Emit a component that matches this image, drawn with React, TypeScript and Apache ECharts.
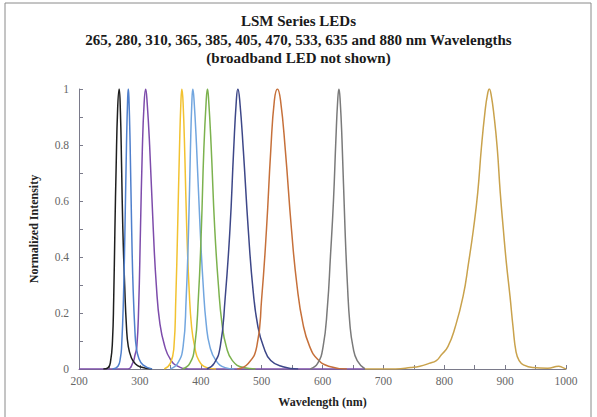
import React, { useEffect, useRef } from "react";
import * as echarts from "echarts";

const titleLines = [
  "LSM Series LEDs",
  "265, 280, 310, 365, 385, 405, 470, 533, 635 and 880 nm Wavelengths",
  "(broadband LED not shown)",
];

const xTickLabels = [200, 300, 400, 500, 600, 700, 800, 900, 1000];
const yTickLabels = ["0", "0.2", "0.4", "0.6", "0.8", "1"];

const led265: [number, number][] = [
  [240, 0], [248, 0.005], [252, 0.03], [255, 0.1], [257, 0.25], [259, 0.5], [261, 0.72],
  [263.5, 0.93], [266, 1], [268, 0.92], [270, 0.72], [272, 0.5], [275, 0.3], [278, 0.15],
  [281, 0.08], [286, 0.04], [292, 0.02], [300, 0.008], [320, 0],
];
const led280: [number, number][] = [
  [255, 0], [264, 0.01], [268, 0.04], [270, 0.08], [273, 0.25], [275.5, 0.5], [278, 0.8],
  [280, 0.97], [281, 1], [282, 0.97], [284, 0.8], [286.5, 0.5], [289, 0.28], [292, 0.13],
  [294, 0.08], [298, 0.04], [305, 0.015], [320, 0],
];
const led310: [number, number][] = [
  [200, 0], [280, 0], [288, 0.02], [292, 0.05], [295, 0.08], [298, 0.22], [301, 0.5], [304, 0.78],
  [307, 0.95], [309.5, 1], [312, 0.95], [316, 0.8], [322, 0.5], [327, 0.3], [333, 0.16],
  [341, 0.08], [350, 0.035], [362, 0.01], [380, 0], [670, 0],
];
const led365: [number, number][] = [
  [340, 0], [350, 0.02], [356, 0.08], [359, 0.25], [362, 0.5], [365, 0.78], [367.5, 0.96],
  [369, 1], [371, 0.95], [374, 0.75], [377, 0.5], [381, 0.28], [385, 0.15], [390, 0.08],
  [397, 0.03], [410, 0.005], [425, 0],
];
const led385: [number, number][] = [
  [350, 0], [362, 0.02], [371, 0.08], [376, 0.25], [380, 0.5], [383, 0.78], [385.5, 0.96],
  [387, 1], [389, 0.96], [393, 0.8], [399, 0.5], [404, 0.3], [409, 0.16], [415, 0.08],
  [425, 0.03], [440, 0.005], [455, 0],
];
const led405: [number, number][] = [
  [370, 0], [382, 0.02], [390, 0.08], [396, 0.25], [401, 0.5], [405, 0.78], [409, 0.96],
  [411, 1], [413, 0.96], [417, 0.8], [423, 0.5], [429, 0.3], [435, 0.16], [442, 0.08],
  [452, 0.03], [470, 0.005], [490, 0],
];
const led470: [number, number][] = [
  [410, 0], [422, 0.02], [432, 0.08], [440, 0.25], [448, 0.5], [454, 0.78], [458.5, 0.96],
  [461, 1], [464, 0.96], [470, 0.78], [478, 0.5], [486, 0.28], [494, 0.15], [503, 0.08],
  [515, 0.03], [535, 0.008], [560, 0],
];
const led533: [number, number][] = [
  [460, 0], [478, 0.02], [492, 0.08], [500, 0.25], [508, 0.5], [515, 0.78], [521, 0.96],
  [526, 1], [531, 0.96], [539, 0.78], [549, 0.5], [558, 0.3], [568, 0.16], [579, 0.08],
  [592, 0.035], [610, 0.01], [640, 0],
];
const led635: [number, number][] = [
  [580, 0], [592, 0.02], [601, 0.08], [608, 0.22], [613, 0.4], [618, 0.6], [622, 0.82],
  [625, 0.96], [627, 1], [629, 0.96], [632, 0.82], [637, 0.5], [641, 0.3], [645, 0.16],
  [650, 0.08], [657, 0.03], [670, 0],
];
const led880: [number, number][] = [
  [670, 0], [720, 0], [745, 0.005], [760, 0.01], [775, 0.02], [787, 0.03], [795, 0.05],
  [806, 0.08], [818, 0.15], [831, 0.26], [840, 0.38], [848, 0.5], [855, 0.63], [861, 0.79],
  [867, 0.92], [871, 0.98], [874, 1], [877, 0.98], [882, 0.9], [887, 0.79], [892, 0.63],
  [897, 0.5], [902, 0.38], [908, 0.26], [913, 0.15], [918, 0.06], [923, 0.03], [930, 0.015],
  [945, 0.005], [970, 0.003], [988, 0.01], [995, 0.005], [1000, 0],
];

const seriesNames = ["265", "280", "310", "365", "385", "405", "470", "533", "635", "880"];
const seriesData = [led265, led280, led310, led365, led385, led405, led470, led533, led635, led880];
const seriesColors = [
  "#1e1e1e", "#4f7fcc", "#7d4cab", "#f2c230", "#72a6df", "#7cb24e",
  "#3d4788", "#c6703a", "#7a7a7a", "#c9a24c",
];

const SERIF = "'Liberation Serif', 'DejaVu Serif', serif";

export default function App() {
  const ref = useRef<HTMLDivElement>(null);
  useEffect(() => {
    document.body.style.margin = "0";
    const chart = echarts.init(ref.current!, null, { renderer: "svg" });
    chart.setOption({
      animation: false,
      backgroundColor: "#ffffff",
      title: {
        text: titleLines.join("\n"),
        left: "center",
        top: 7,
        textStyle: {
          fontFamily: SERIF,
          fontWeight: "bold",
          fontSize: 15,
          lineHeight: 18.5,
          color: "#1a1a1a",
        },
      },
      graphic: [
        {
          type: "rect",
          shape: { x: 5, y: 3, width: 586, height: 420 },
          style: { fill: "none", stroke: "#8a8a8a", lineWidth: 1 },
          silent: true,
        },
      ],
      grid: { left: 79, right: 31, top: 89, bottom: 48 },
      xAxis: {
        type: "value",
        min: 200,
        max: 1000,
        interval: 50,
        name: "Wavelength (nm)",
        nameLocation: "middle",
        nameGap: 27,
        nameTextStyle: { fontFamily: SERIF, fontWeight: "bold", fontSize: 12, color: "#222" },
        axisLine: { lineStyle: { color: "#7a7a8a", width: 1 } },
        axisTick: { inside: true, length: 4, lineStyle: { color: "#7a7a8a" } },
        axisLabel: {
          fontFamily: SERIF,
          fontSize: 11.5,
          color: "#666",
          margin: 6,
          formatter: (v: number) => (xTickLabels.includes(v) ? String(v) : ""),
        },
        splitLine: { show: false },
      },
      yAxis: {
        type: "value",
        min: 0,
        max: 1,
        interval: 0.1,
        name: "Normalized Intensity",
        nameLocation: "middle",
        nameGap: 39,
        nameTextStyle: { fontFamily: SERIF, fontWeight: "bold", fontSize: 12, color: "#222" },
        axisLine: { show: true, lineStyle: { color: "#7a7a8a", width: 1 } },
        axisTick: { show: true, inside: true, length: 4, lineStyle: { color: "#7a7a8a" } },
        axisLabel: {
          fontFamily: SERIF,
          fontSize: 11.5,
          color: "#666",
          margin: 10,
          formatter: (v: number) => {
            const k = Math.round(v * 10);
            return k % 2 === 0 ? yTickLabels[k / 2] : "";
          },
        },
        splitLine: { show: false },
      },
      series: seriesData.map((d, i) => ({
        name: seriesNames[i],
        type: "line",
        data: d,
        showSymbol: false,
        smooth: 0.5,
        lineStyle: { color: seriesColors[i], width: 1.5 },
        itemStyle: { color: seriesColors[i] },
        z: i === 2 ? 1 : 2,
      })),
    });
    return () => chart.dispose();
  }, []);
  return <div ref={ref} style={{ width: 597, height: 417 }} />;
}
